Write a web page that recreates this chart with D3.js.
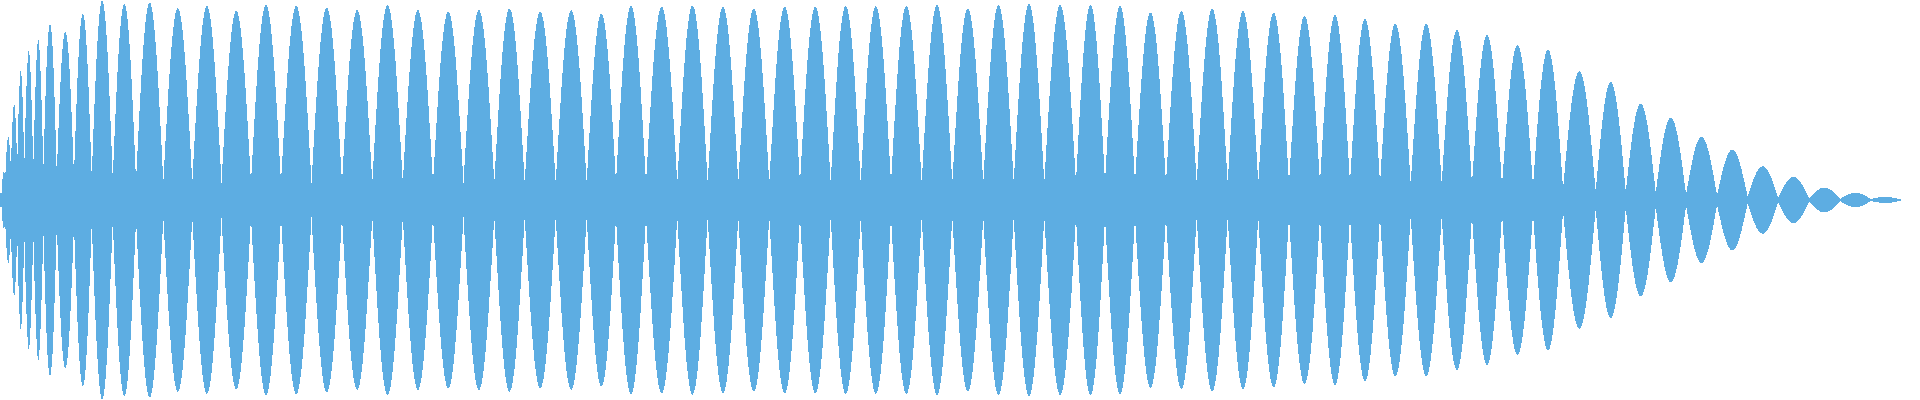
<!DOCTYPE html>
<html>
<head>
<meta charset="utf-8">
<script src="https://cdn.jsdelivr.net/npm/d3@7"></script>
<style>
  html, body { margin: 0; padding: 0; background: #ffffff; }
  svg { display: block; }
</style>
</head>
<body>
<svg id="chart" width="1920" height="400"></svg>
<script>
// Zero-crossing times (ms) between the lobes of the waveform
const crossings = [0, 2, 5.5, 11, 17.3, 24.3, 33.3, 43.3, 56.7, 74, 91.7, 112.7, 136, 163.3, 192.3,
  221.5, 251, 281, 311.5, 342, 372.3, 402.8, 433, 463.5, 494.3, 524.7, 555.7, 586.7, 616, 646,
  677.3, 707.7, 738.3, 769.3, 800, 830.7, 860.7, 891, 921.7, 952.3, 983.3, 1013.7, 1044.3, 1076,
  1105, 1135, 1166, 1196.7, 1227.7, 1258.3, 1289, 1320, 1350, 1380, 1410.7, 1441.7, 1472, 1502,
  1533, 1563, 1595.7, 1625.7, 1655.7, 1686, 1717, 1747.5, 1778, 1809, 1840, 1870.7, 1900];

// Peak amplitude (% of full scale) of each lobe
const peaks = [3.5, 14, 31.5, 48, 64.5, 74.5, 80, 87.5, 84, 93, 99.5, 98, 98.5, 95.8, 96.8,
  94.5, 97.5, 97, 96, 94.8, 97.3, 94.8, 94, 94.8, 95.5, 94, 94.8, 93, 96.8, 96.5,
  97, 96.5, 95.5, 96.5, 96.5, 96.8, 96.8, 96.8, 97.3, 95.5, 97.3, 97.8, 97.3, 97.3,
  96.8, 93.5, 94.3, 95.5, 94.3, 93.5, 91.8, 92.3, 90.5, 88, 88, 84.8, 82.5, 77.3,
  75, 64.2, 58.8, 48, 41, 31.3, 25, 16.7, 11.3, 6, 3.5, 1.3];

// Residual level (% of full scale) at each zero crossing
const troughs = [0, 3, 8, 9, 6, 5, 5, 5, 5, 5, 4.5, 4.5, 4,
  4, 4, 4, 4, 4, 4, 4, 4, 4, 4, 4, 4, 4, 4, 4, 4, 4, 4, 4, 4, 4, 4, 4, 4, 4, 4, 4, 4, 4, 4, 4,
  4, 4, 4, 4, 4, 4, 4, 4, 4, 4, 4, 4, 4,
  3.5, 3.5, 2.5, 1.5, 1.5, 1.5, 1, 1, 0.8, 0.5, 0.5, 0.3, 0.3, 0.2];

const W = 1920, H = 400;
const svg = d3.select("#chart");

const x = d3.scaleLinear().domain([0, 1920]).range([0, W]);
const y = d3.scaleLinear().domain([-100, 100]).range([H, 0]);

const area = d3.area()
  .x(d => x(d.t))
  .y0(d => y(-d.v))
  .y1(d => y(d.v))
  .curve(d3.curveMonotoneX);

const lobes = peaks.map((p, i) => [
  { t: crossings[i], v: troughs[i] },
  { t: (crossings[i] + crossings[i + 1]) / 2, v: p },
  { t: crossings[i + 1], v: troughs[i + 1] }
]);

svg.append("g")
  .selectAll("path")
  .data(lobes)
  .join("path")
  .attr("d", area)
  .attr("fill", "#5dade2")
  .attr("stroke", "#5dade2")
  .attr("stroke-width", 1)
  .attr("shape-rendering", "crispEdges");
</script>
</body>
</html>
